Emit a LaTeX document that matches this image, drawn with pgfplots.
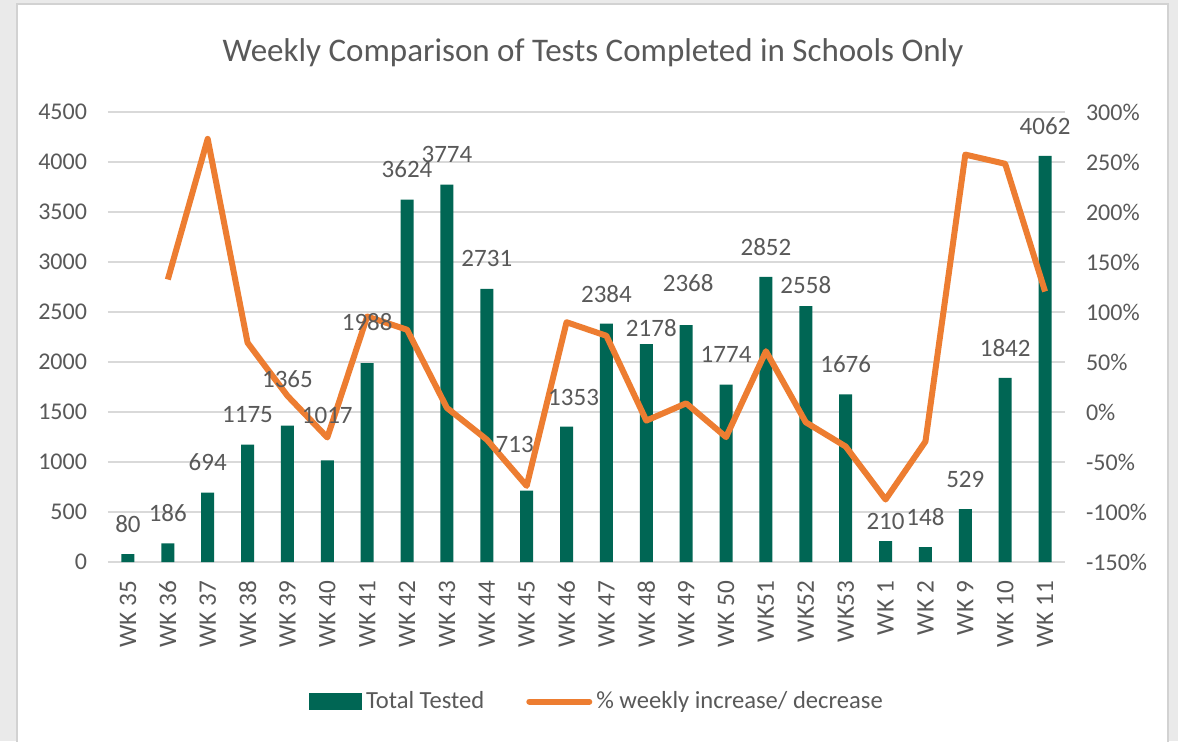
\documentclass[border=0pt]{standalone}
\usepackage{pgfplots}
\pgfplotsset{compat=1.18}
\usepackage{pgfplotstable}
\usepackage{fontspec}
\setmainfont{Carlito}
\usepackage{xcolor}
\definecolor{barteal}{RGB}{0,102,84}
\definecolor{lineorange}{RGB}{237,125,49}
\definecolor{textgray}{RGB}{89,89,89}
\definecolor{gridgray}{RGB}{217,217,217}
\definecolor{bggray}{RGB}{234,234,234}
\definecolor{panelgray}{RGB}{210,210,210}

% tests per week; dy/dx = label offset (pt)
\pgfplotstableread{
x y dy dx
0 80 15 0
1 186 15 0
2 694 15 0
3 1175 15 0
4 1365 23 0
5 1017 22.5 0
6 1988 20.5 0
7 3624 15 0
8 3774 15 0
9 2731 15 0
10 713 23 -6
11 1353 14.5 3.5
12 2384 15 0
13 2178 8 2.5
14 2368 21 1
15 1774 15 0
16 2852 15 0
17 2558 10.5 0
18 1676 15 0
19 210 10 0
20 148 15 0
21 529 15 0
22 1842 15 0
23 4062 15 0
}\tests

% weekly change in percent
\pgfplotstableread{
x p
1 132.5
2 273.1
3 69.3
4 16.2
5 -25.5
6 95.5
7 82.3
8 4.1
9 -27.6
10 -73.9
11 89.8
12 76.2
13 -8.6
14 8.7
15 -25.1
16 60.8
17 -10.3
18 -34.5
19 -87.5
20 -29.5
21 257.4
22 248.2
23 120.5
}\pct

\pgfplotsset{
  base/.style={
    at={(54pt,89.5pt)}, anchor=south west,
    width=478.5pt, height=225pt, scale only axis,
    xmin=-0.5, xmax=23.5,
    axis line style={draw=none},
    major tick length=0pt,
    /pgf/number format/assume math mode=true,
    /pgf/number format/1000 sep={},
    tick label style={font=\fontsize{12}{14}\selectfont, text=textgray},
  },
}

\begin{document}
\begin{tikzpicture}
\useasboundingbox (0,0) rectangle (589pt,370.5pt);
\fill[bggray] (0,0) rectangle (589pt,370.5pt);
\filldraw[fill=white, draw=panelgray, line width=1pt] (8.5pt,-2pt) rectangle (584pt,368.5pt);
\node[text=textgray, font=\fontsize{16.5}{19}\selectfont] at (296.5pt,344pt)
  {Weekly Comparison of Tests Completed in Schools Only};

% bars
\begin{axis}[base,
    ymin=0, ymax=4500, ytick={0,500,...,4500},
    scaled y ticks=false,
    ymajorgrids, grid style={gridgray, line width=1pt},
    yticklabel style={xshift=-7pt},
    xtick={0,...,23},
    xticklabels={WK 35,WK 36,WK 37,WK 38,WK 39,WK 40,WK 41,WK 42,WK 43,WK 44,WK 45,WK 46,WK 47,WK 48,WK 49,WK 50,WK51,WK52,WK53,WK 1,WK 2,WK 9,WK 10,WK 11},
    xticklabel style={rotate=90, anchor=east, xshift=-6pt, font=\fontsize{12.6}{14}\selectfont},
  ]
  \addplot[ybar, bar width=6.5pt, fill=barteal, draw=none] table[x=x, y=y] {\tests};
\end{axis}

% percent line
\begin{axis}[base,
    ymin=-150, ymax=300, ytick={-150,-100,...,300},
    axis y line*=right, hide x axis,
    yticklabel={\pgfmathprintnumber{\tick}\%},
    yticklabel style={anchor=west, xshift=7pt},
    legend style={at={(0.512,-0.31)}, anchor=center, draw=none, fill=none,
      font=\fontsize{12.3}{14}\selectfont, text=textgray,
      /tikz/every even column/.append style={column sep=19pt}},
    legend columns=2,
  ]
  \addlegendimage{legend image code/.code={\fill[barteal] (0pt,-4pt) rectangle (26pt,4pt);}}
  \addlegendentry{Total Tested}
  \addplot[lineorange, line width=3pt, line join=round,
    legend image code/.code={\draw[lineorange, line width=3pt, line cap=round] (0pt,0pt) -- (30pt,0pt);}]
    table[x=x, y=p] {\pct};
  \addlegendentry{\% weekly increase/ decrease}
\end{axis}

% data labels on top
\begin{axis}[base, ymin=0, ymax=4500, hide axis]
  \addplot[draw=none, mark=none,
    visualization depends on={\thisrow{dy} \as \ldy},
    visualization depends on={\thisrow{dx} \as \ldx},
    nodes near coords,
    nodes near coords align={center},
    every node near coord/.append style={font=\fontsize{12.5}{14}\selectfont,
      text=textgray, yshift=\ldy pt, xshift=\ldx pt},
  ] table[x=x, y=y] {\tests};
\end{axis}
\end{tikzpicture}
\end{document}
